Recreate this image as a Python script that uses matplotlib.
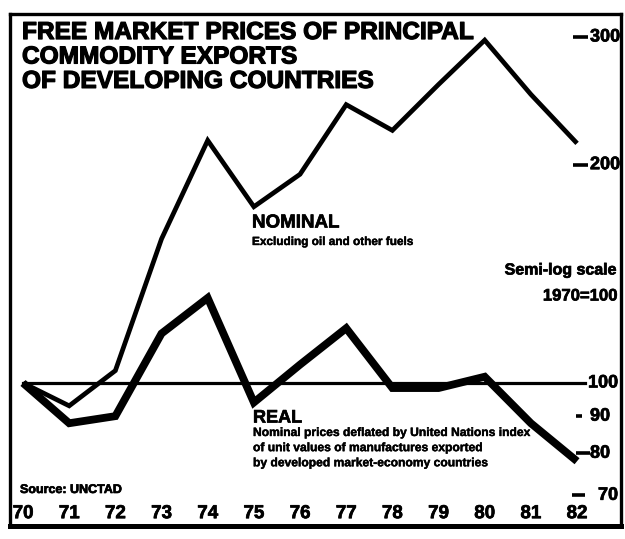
import numpy as np
import matplotlib.pyplot as plt
from matplotlib import transforms
import matplotlib.patheffects as pe

# data (1970 = 100, semi-log)
years = [1970, 1971, 1972, 1973, 1974, 1975, 1976, 1977, 1978, 1979, 1980, 1981, 1982]
year_labels = ['70', '71', '72', '73', '74', '75', '76', '77', '78', '79', '80', '81', '82']
nominal = [100, 93, 104, 158, 216, 175, 194, 242, 223, 258, 297, 250, 214]
real = [100, 88, 90, 117, 131, 94, 106, 119, 98.4, 98.4, 102, 88, 78]
yvals = [300, 200, 100, 90, 80, 70]
ylabels = ['300', '200', '100', '90', '80', '70']

plt.rcParams['font.family'] = ['Liberation Sans', 'DejaVu Sans']

W, H = 625, 539
L, R, T, B = 10, 621, 14, 526

def fx(px):
    return (px - L) / (R - L)

def fy(py):
    return (B - py) / (B - T)

heavy = [pe.withStroke(linewidth=0.9, foreground='black')]
heavy_s = [pe.withStroke(linewidth=0.5, foreground='black')]
heavy_xs = [pe.withStroke(linewidth=0.3, foreground='black')]

fig = plt.figure(figsize=(W / 100, H / 100), dpi=100)
ax = fig.add_axes([L / W, (H - B) / H, (R - L) / W, (B - T) / H])

ax.set_yscale('log')
ax.set_xlim(1969.718, 1982.952)
ax.set_ylim(63.5, 322.7)
ax.minorticks_off()
ax.set_yticks([])

for side, lw in [('left', 2.4), ('right', 2.4), ('top', 2.4), ('bottom', 3.6)]:
    ax.spines[side].set_linewidth(lw)
    ax.spines[side].set_color('black')

ax.set_xticks(years)
ax.set_xticklabels(year_labels, fontsize=13.5, fontweight='bold')
ax.tick_params(axis='x', length=0, pad=-15)
for t in ax.get_xticklabels():
    t.set_path_effects(heavy_s)

# 1970 = 100 base line
ax.axhline(100, xmin=fx(23), xmax=fx(585), color='black', lw=2.3)

ax.plot(years, nominal, color='black', lw=3.4, solid_joinstyle='miter', solid_capstyle='butt')
ax.plot(years, real, color='black', lw=5.6, solid_joinstyle='miter', solid_capstyle='butt')

# right-hand scale written inside the frame
tr = transforms.blended_transform_factory(ax.transAxes, ax.transData)
dashes = {300: (573, 588), 200: (573, 588), 90: (576, 582), 80: (576, 590), 70: (572, 585)}
text_x = {300: 590, 200: 590, 100: 588, 90: 590, 80: 590, 70: 598}
for v, lab in zip(yvals, ylabels):
    if v in dashes:
        x0, x1 = dashes[v]
        ax.plot([fx(x0), fx(x1)], [v, v], color='black', lw=2.6, transform=tr, solid_capstyle='butt')
    ax.text(fx(text_x[v]), v, lab, transform=tr, ha='left', va='center',
            fontsize=13, fontweight='bold', path_effects=heavy_s)

# title
ax.text(fx(22), fy(21), 'FREE MARKET PRICES OF PRINCIPAL\nCOMMODITY EXPORTS\nOF DEVELOPING COUNTRIES',
        transform=ax.transAxes, ha='left', va='top', fontsize=17.6, fontweight='bold',
        linespacing=1.08, path_effects=heavy)

ax.text(fx(252), fy(223), 'NOMINAL', transform=ax.transAxes, ha='left', va='center',
        fontsize=13.5, fontweight='bold', path_effects=heavy_s)
ax.text(fx(252), fy(242), 'Excluding oil and other fuels', transform=ax.transAxes,
        ha='left', va='center', fontsize=8.5, fontweight='bold', path_effects=heavy_xs)

ax.text(fx(253), fy(418), 'REAL', transform=ax.transAxes, ha='left', va='center',
        fontsize=13, fontweight='bold', path_effects=heavy_s)
ax.text(fx(253), fy(427), 'Nominal prices deflated by United Nations index\n'
        'of unit values of manufactures exported\n'
        'by developed market-economy countries',
        transform=ax.transAxes, ha='left', va='top', fontsize=8.7, fontweight='bold',
        linespacing=1.35, path_effects=heavy_xs)

ax.text(fx(617), fy(270), 'Semi-log scale', transform=ax.transAxes, ha='right', va='center',
        fontsize=11.5, fontweight='bold', path_effects=heavy_s)
ax.text(fx(617), fy(296), '1970=100', transform=ax.transAxes, ha='right', va='center',
        fontsize=12, fontweight='bold', path_effects=heavy_s)

ax.text(fx(20), fy(490), 'Source: UNCTAD', transform=ax.transAxes, ha='left', va='center',
        fontsize=9, fontweight='bold', path_effects=heavy_s)

plt.savefig('out.png', dpi=100)
